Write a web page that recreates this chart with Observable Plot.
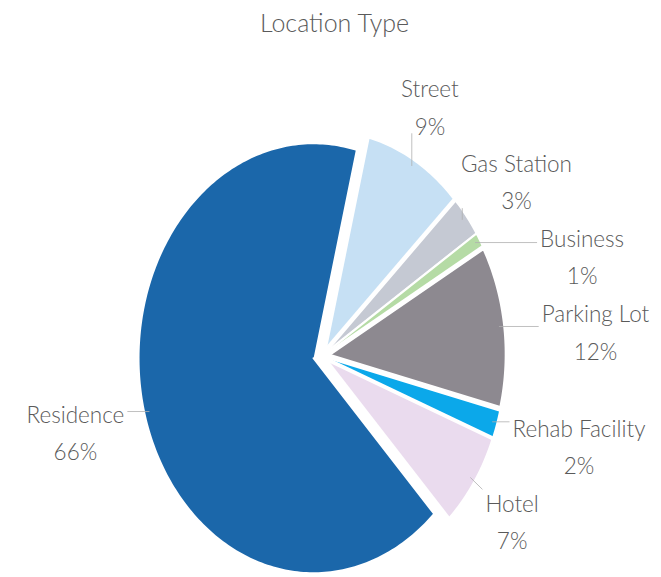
<!DOCTYPE html>
<html><head><meta charset="utf-8">
<script src="https://cdn.jsdelivr.net/npm/d3@7"></script>
<script src="https://cdn.jsdelivr.net/npm/@observablehq/plot@0.6"></script>
<style>
body{margin:0;background:#fff;font-family:Lato,sans-serif}
#title{height:44px;line-height:44px;font-size:25px;font-weight:300;color:#5a5a5a;text-align:center;padding-left:8px;width:653px}
#chart svg{display:block}
</style></head><body>
<div id="title">Location Type</div>
<div id="chart"></div>
<script>
// ---- data ----
const categories = ["Street", "Gas Station", "Business", "Parking Lot", "Rehab Facility", "Hotel", "Residence"];
const shares = [9, 3, 1, 12, 2, 7, 66];
const percentLabels = ["9%", "3%", "1%", "12%", "2%", "7%", "66%"];
const palette = ["#c6e0f4", "#c5c9d3", "#b5dba5", "#8d8990", "#0ba8ea", "#eadbee", "#1b67aa"];

// ---- layout ----
const W = 661, H = 533, CX = 321.5, CY = 311, RX = 175, RY = 215;
const firstSliceAngle = 14 * Math.PI / 180;
const explode = 0.05;
const fontSize = 22.5, lineH = 1.66;
const labelGap = 1.18;

const arcs = d3.pie().sort(null).value(d => d).startAngle(firstSliceAngle).endAngle(firstSliceAngle + 2 * Math.PI)(shares);

// slice outlines in unit coordinates (y up)
const points = [];
arcs.forEach((a, i) => {
  const mid = (a.startAngle + a.endAngle) / 2;
  const ox = explode * Math.sin(mid), oy = explode * Math.cos(mid);
  points.push({name: categories[i], x: ox, y: oy});
  const n = Math.max(2, Math.ceil((a.endAngle - a.startAngle) / (Math.PI / 180)) + 1);
  for (let k = 0; k < n; k++) {
    const t = a.startAngle + (a.endAngle - a.startAngle) * k / (n - 1);
    points.push({name: categories[i], x: ox + Math.sin(t), y: oy + Math.cos(t)});
  }
});

// label layout (computed in px, converted back to unit coords)
const ctx = document.createElement("canvas").getContext("2d");
ctx.font = `300 ${fontSize}px Lato`;
const toUx = px => (px - CX) / RX, toUy = py => (CY - py) / RY;
const boxes = [];
const labels = [], leaders = [];
arcs.forEach((a, i) => {
  const th = (a.startAngle + a.endAngle) / 2;
  const s = Math.sin(th), c = Math.cos(th);
  const w = Math.max(ctx.measureText(categories[i]).width, ctx.measureText(percentLabels[i]).width) + 6;
  const h = 2 * lineH * fontSize;
  const ex = CX + labelGap * RX * s, ey = CY - labelGap * RY * c;
  let x = ex + 0.5 * w * s * s * s, y = ey - h / 2 * c;
  // collision avoidance: slide outward and downward
  const tx = s < 0 ? -0.75 : 0.75, ty = 0.66;
  const overlaps = (x, y) => boxes.some(b => Math.abs(b.x - x) < (b.w + w) / 2 && Math.abs(b.y - y) < (b.h + h) / 2);
  let guard = 0;
  while (overlaps(x, y) && guard++ < 300) { x += tx; y += ty; }
  boxes.push({x, y, w, h});
  labels.push({text: categories[i] + "\n" + percentLabels[i], x: toUx(x), y: toUy(y)});
  // leader: from slice edge to nearest point on the label box
  const px = CX + (explode + 0.97) * RX * s, py = CY - (explode + 0.97) * RY * c;
  const qx = Math.max(x - w / 2, Math.min(px, x + w / 2));
  const qy = Math.max(y - h / 2 + 8, Math.min(py, y + h / 2 - 8));
  leaders.push({x1: toUx(px), y1: toUy(py), x2: toUx(qx), y2: toUy(qy)});
});

const chart = Plot.plot({
  width: W, height: H, margin: 0,
  x: {domain: [-CX / RX, (W - CX) / RX], axis: null},
  y: {domain: [-(H - CY) / RY, CY / RY], axis: null},
  color: {domain: categories, range: palette},
  style: {fontFamily: "Lato, sans-serif", background: "white"},
  marks: [
    Plot.line(points, {x: "x", y: "y", z: "name", fill: "name", stroke: "white", strokeWidth: 2, curve: "linear"}),
    Plot.link(leaders, {x1: "x1", y1: "y1", x2: "x2", y2: "y2", stroke: "#b0b0b0", strokeWidth: 0.8}),
    Plot.text(labels, {x: "x", y: "y", text: "text", fontSize: fontSize, fontWeight: 300, lineHeight: lineH, fill: "#5a5a5a", textAnchor: "middle"})
  ]
});
document.getElementById("chart").appendChild(chart);
</script>
</body></html>
